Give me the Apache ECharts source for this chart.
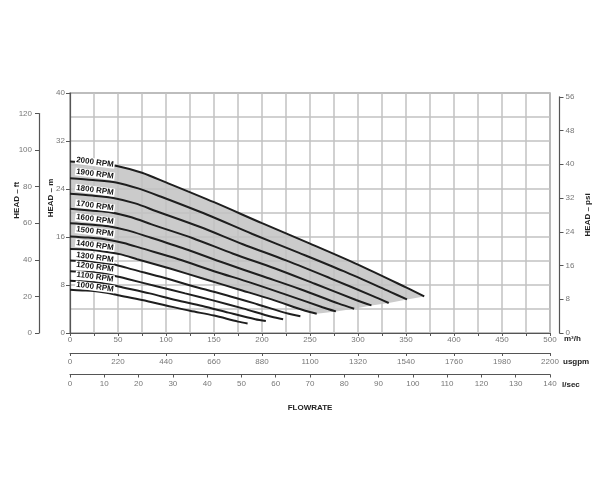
<!DOCTYPE html>
<html>
<head>
<meta charset="utf-8">
<script src="https://cdn.jsdelivr.net/npm/echarts@6/dist/echarts.min.js"></script>
<style>html,body{margin:0;padding:0;background:#fff}#c{width:600px;height:500px}</style>
</head>
<body>
<div id="c"></div>
<script>
// ---- data ----
const speeds = [2000, 1900, 1800, 1700, 1600, 1500, 1400, 1300, 1200, 1100, 1000];
const q2000 = [0, 25, 50, 75, 100, 150, 200, 250, 300, 350, 369];
const h2000 = [28.6, 28.3, 27.8, 26.7, 25.1, 21.8, 18.3, 14.9, 11.4, 7.6, 6.1];
const q1900 = [0, 24, 48, 71, 95, 143, 190, 238, 285, 333, 351];
const h1900 = [25.8, 25.5, 25.1, 24.1, 22.7, 19.7, 16.5, 13.4, 10.3, 6.9, 5.6];
const q1800 = [0, 23, 45, 68, 90, 135, 180, 225, 270, 315, 332];
const h1800 = [23.2, 22.9, 22.5, 21.6, 20.3, 17.7, 14.8, 12.1, 9.2, 6.2, 5.0];
const q1700 = [0, 21, 43, 64, 85, 128, 170, 213, 255, 298, 314];
const h1700 = [20.7, 20.4, 20.1, 19.3, 18.1, 15.8, 13.2, 10.8, 8.2, 5.5, 4.6];
const q1600 = [0, 20, 40, 60, 80, 120, 160, 200, 240, 280, 296];
const h1600 = [18.3, 18.1, 17.8, 17.1, 16.1, 14.0, 11.7, 9.5, 7.3, 4.9, 4.05];
const q1500 = [0, 19, 38, 56, 75, 113, 150, 188, 225, 263, 277];
const h1500 = [16.1, 15.9, 15.6, 15.0, 14.1, 12.3, 10.3, 8.4, 6.4, 4.3, 3.6];
const q1400 = [0, 18, 35, 53, 70, 105, 140, 175, 210, 245, 257];
const h1400 = [14.0, 13.9, 13.6, 13.1, 12.3, 10.7, 9.0, 7.3, 5.6, 3.7, 3.2];
const q1300 = [0, 16, 33, 49, 65, 98, 130, 163, 195, 228, 240];
const h1300 = [12.1, 12.0, 11.7, 11.3, 10.6, 9.2, 7.7, 6.3, 4.8, 3.2, 2.8];
const q1200 = [0, 15, 30, 45, 60, 90, 120, 150, 180, 210, 222];
const h1200 = [10.3, 10.2, 10.0, 9.6, 9.0, 7.8, 6.6, 5.4, 4.1, 2.7, 2.3];
const q1100 = [0, 14, 28, 41, 55, 83, 110, 138, 165, 193, 204];
const h1100 = [8.7, 8.6, 8.4, 8.1, 7.6, 6.6, 5.5, 4.5, 3.4, 2.3, 2.0];
const q1000 = [0, 13, 25, 38, 50, 75, 100, 125, 150, 175, 185];
const h1000 = [7.2, 7.1, 7.0, 6.7, 6.3, 5.5, 4.6, 3.7, 2.9, 1.9, 1.6];

const labelFlow = 26;
const labelHead = [28.45, 26.5, 23.8, 21.2, 18.95, 16.9, 14.6, 12.6, 11.0, 9.33, 7.67];

// axis ranges
const flowM3hMax = 500, flowGpmMax = 2200, flowLsMax = 140;
const headMMax = 40, headFtMax = 120, headPsiMax = 56;

// ---- build ----
const qs = [q2000, q1900, q1800, q1700, q1600, q1500, q1400, q1300, q1200, q1100, q1000];
const hs = [h2000, h1900, h1800, h1700, h1600, h1500, h1400, h1300, h1200, h1100, h1000];

// operating region: 2000 curve, endpoints 1900..1500, 1400 curve reversed
const polyQ = [], polyH = [];
q2000.forEach((q, i) => { polyQ.push(q); polyH.push(h2000[i]); });
for (let k = 1; k <= 5; k++) { polyQ.push(qs[k][qs[k].length - 1]); polyH.push(hs[k][hs[k].length - 1]); }
for (let i = q1400.length - 1; i >= 0; i--) { polyQ.push(q1400[i]); polyH.push(h1400[i]); }

const FONT = 'Liberation Sans';
const gridLine = { color: '#c2c2c2', width: 1.5 };
const axLine = { show: true, lineStyle: { color: '#555', width: 1.2 } };
const plain = v => String(v);
const lbl = { fontSize: 8, color: '#777', fontFamily: FONT, formatter: plain };
const nameStyle = { fontSize: 8, fontWeight: 'bold', color: '#222', fontFamily: FONT };

const chart = echarts.init(document.getElementById('c'), null, { renderer: 'canvas' });

const gridTop = 93, gridH = 240, plotBottom = 500 - gridTop - gridH;
const ftTop = gridTop + gridH - gridH * (headFtMax * 0.3048) / headMMax;
const psiTop = gridTop + gridH - gridH * (headPsiMax * 0.70307) / headMMax;

const series = [];
series.push({
  type: 'custom', xAxisIndex: 0, yAxisIndex: 0, z: 1, silent: true,
  data: [[0, 0]],
  renderItem: function (params, api) {
    const pts = polyQ.map((q, i) => api.coord([q, polyH[i]]));
    return { type: 'polygon', shape: { points: pts }, style: { fill: '#cbcbcb' } };
  }
});
speeds.forEach((s, k) => {
  series.push({
    type: 'line', name: s + ' RPM', xAxisIndex: 0, yAxisIndex: 0, z: 3,
    data: qs[k].map((q, i) => [q, hs[k][i]]),
    showSymbol: false, symbol: 'none', smooth: 0.3,
    lineStyle: { color: '#1e1e1e', width: 2 }, silent: true
  });
});
series.push({
  type: 'custom', xAxisIndex: 0, yAxisIndex: 0, z: 4, silent: true,
  data: speeds.map((s, i) => [labelFlow, labelHead[i], s]),
  renderItem: function (params, api) {
    const p = api.coord([api.value(0), api.value(1)]);
    return {
      type: 'text', x: p[0], y: p[1], rotation: -7.5 * Math.PI / 180,
      style: {
        text: api.value(2) + ' RPM', fill: '#111', fontSize: 8, fontWeight: 'bold', fontFamily: FONT,
        align: 'center', verticalAlign: 'middle', backgroundColor: '#fff', padding: [0, 1, 0, 1]
      }
    };
  }
});

chart.setOption({
  animation: false,
  grid: [
    { left: 70, top: gridTop, width: 480, height: gridH, show: true, borderColor: '#666', borderWidth: 1.2, backgroundColor: 'transparent' },
    { left: 39, top: ftTop, width: 1, bottom: plotBottom },
    { left: 559.5, top: psiTop, width: 1, bottom: plotBottom },
    { left: 70, top: 340, width: 480, bottom: 500 - 353 },
    { left: 70, top: 362, width: 480, bottom: 500 - 374.5 }
  ],
  xAxis: [
    { gridIndex: 0, type: 'value', position: 'bottom', min: 0, max: flowM3hMax, interval: 50, z: 2,
      axisLine: axLine, axisTick: { show: true, length: 3, lineStyle: { color: '#555' } },
      minorTick: { show: true, splitNumber: 2, length: 3, lineStyle: { color: '#555' } },
      splitLine: { show: true, lineStyle: gridLine }, minorSplitLine: { show: true, lineStyle: gridLine },
      axisLabel: Object.assign({ margin: 3 }, lbl),
      name: 'm³/h', nameLocation: 'end', nameGap: 14, nameMoveOverlap: false,
      nameTextStyle: Object.assign({ verticalAlign: 'top', padding: [2, 0, 0, 0] }, nameStyle) },
    { gridIndex: 1, type: 'value', min: 0, max: 1, show: false },
    { gridIndex: 2, type: 'value', min: 0, max: 1, show: false },
    { gridIndex: 3, type: 'value', position: 'bottom', min: 0, max: flowGpmMax, interval: 220,
      axisLine: axLine, axisTick: { show: true, length: 3, lineStyle: { color: '#555' } }, splitLine: { show: false },
      axisLabel: Object.assign({ margin: 5 }, lbl),
      name: 'usgpm', nameLocation: 'end', nameGap: 13, nameMoveOverlap: false,
      nameTextStyle: Object.assign({ verticalAlign: 'top', padding: [5, 0, 0, 0] }, nameStyle) },
    { gridIndex: 4, type: 'value', position: 'bottom', min: 0, max: flowLsMax, interval: 10,
      axisLine: axLine, axisTick: { show: true, length: 3, lineStyle: { color: '#555' } }, splitLine: { show: false },
      axisLabel: Object.assign({ margin: 5 }, lbl),
      name: 'l/sec', nameLocation: 'end', nameGap: 12, nameMoveOverlap: false,
      nameTextStyle: Object.assign({ verticalAlign: 'top', padding: [6, 0, 0, 0] }, nameStyle) },
    { gridIndex: 4, type: 'value', position: 'bottom', min: 0, max: flowLsMax,
      axisLine: { show: false }, axisTick: { show: false }, axisLabel: { show: false }, splitLine: { show: false },
      name: 'FLOWRATE', nameLocation: 'middle', nameGap: 29, nameMoveOverlap: false, nameTextStyle: nameStyle }
  ],
  yAxis: [
    { gridIndex: 0, type: 'value', min: 0, max: headMMax, interval: 8, z: 2,
      axisLine: axLine, axisTick: { show: true, length: 4, lineStyle: { color: '#555' } },
      minorTick: { show: false, splitNumber: 2 },
      splitLine: { show: true, lineStyle: gridLine }, minorSplitLine: { show: true, lineStyle: gridLine },
      axisLabel: Object.assign({ margin: 5 }, lbl),
      name: 'HEAD – m', nameLocation: 'middle', nameRotate: 90, nameGap: 15, nameMoveOverlap: false,
      nameTextStyle: Object.assign({ padding: [0, 0, 0, 30] }, nameStyle) },
    { gridIndex: 1, type: 'value', position: 'left', min: 0, max: headFtMax, interval: 20,
      axisLine: axLine, axisTick: { show: true, length: 4, lineStyle: { color: '#555' } }, splitLine: { show: false },
      axisLabel: Object.assign({ margin: 7 }, lbl),
      name: 'HEAD – ft', nameLocation: 'middle', nameRotate: 90, nameGap: 18, nameMoveOverlap: false,
      nameTextStyle: Object.assign({ padding: [0, 0, 0, 46] }, nameStyle) },
    { gridIndex: 2, type: 'value', position: 'right', min: 0, max: headPsiMax, interval: 8,
      axisLine: axLine, axisTick: { show: true, length: 4, lineStyle: { color: '#555' } }, splitLine: { show: false },
      axisLabel: Object.assign({ margin: 5 }, lbl),
      name: 'HEAD – psi', nameLocation: 'middle', nameRotate: 90, nameGap: 23, nameMoveOverlap: false, nameTextStyle: nameStyle },
    { gridIndex: 3, type: 'value', min: 0, max: 1, show: false },
    { gridIndex: 4, type: 'value', min: 0, max: 1, show: false }
  ],
  series: series
});
</script>
</body>
</html>
